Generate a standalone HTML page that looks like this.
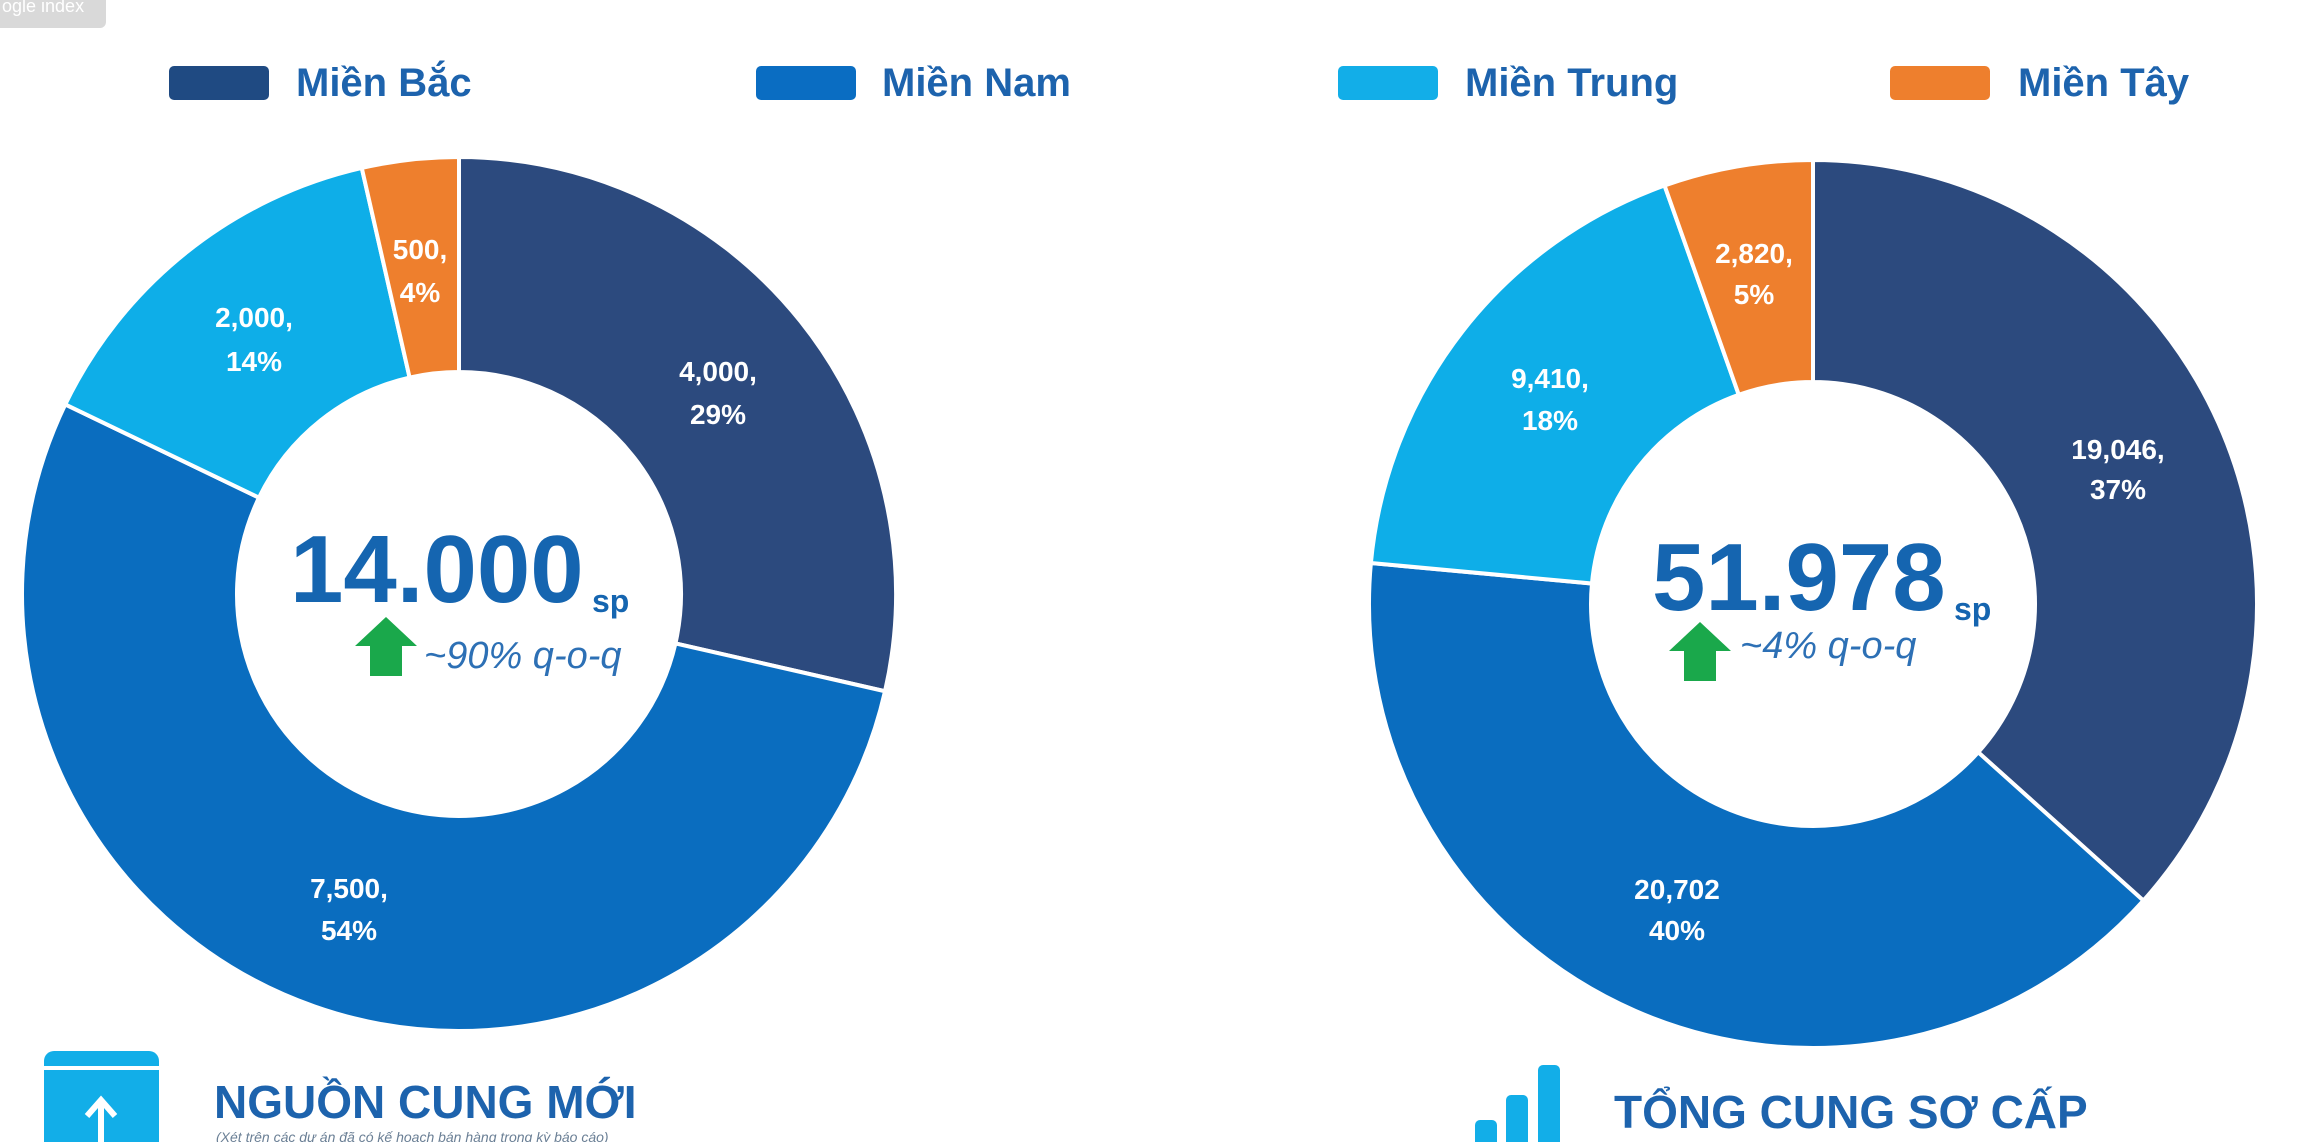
<!DOCTYPE html>
<html><head><meta charset="utf-8"><style>
html,body{margin:0;padding:0;background:#fff;}
svg{display:block;}
text{font-family:"Liberation Sans","DejaVu Sans",sans-serif;}
</style></head><body>
<svg id="s" width="2301" height="1142" viewBox="0 0 2301 1142" xmlns="http://www.w3.org/2000/svg">
<rect x="0" y="0" width="2301" height="1142" fill="#fff"/>
<rect x="-10" y="-10" width="116" height="38" rx="6" fill="#d9d9d9"/>
<text x="2" y="12" font-size="18" fill="#fff">ogle index</text>
<rect x="169" y="66" width="100" height="34" rx="5" fill="#1f4a82"/>
<text x="296" y="96" font-size="40" font-weight="bold" fill="#1d63ad">Miền Bắc</text>
<rect x="756" y="66" width="100" height="34" rx="5" fill="#0a6dc2"/>
<text x="882" y="96" font-size="40" font-weight="bold" fill="#1d63ad">Miền Nam</text>
<rect x="1338" y="66" width="100" height="34" rx="5" fill="#12aee8"/>
<text x="1465" y="96" font-size="40" font-weight="bold" fill="#1d63ad">Miền Trung</text>
<rect x="1890" y="66" width="100" height="34" rx="5" fill="#ee7f2d"/>
<text x="2018" y="96" font-size="40" font-weight="bold" fill="#1d63ad">Miền Tây</text>
<g id="d1"></g><g id="d2"></g>
<g font-size="28" font-weight="bold" fill="#fff" text-anchor="middle">
<text x="718" y="381">4,000,</text><text x="718" y="424">29%</text>
<text x="349" y="898">7,500,</text><text x="349" y="940">54%</text>
<text x="254" y="327">2,000,</text><text x="254" y="371">14%</text>
<text x="420" y="259">500,</text><text x="420" y="302">4%</text>
<text x="2118" y="459">19,046,</text><text x="2118" y="499">37%</text>
<text x="1677" y="899">20,702</text><text x="1677" y="940">40%</text>
<text x="1550" y="388">9,410,</text><text x="1550" y="430">18%</text>
<text x="1754" y="263">2,820,</text><text x="1754" y="304">5%</text>
</g>
<text x="290" y="602" font-size="96" font-weight="bold" fill="#1565b0">14.000</text>
<text x="592" y="612" font-size="32" font-weight="bold" fill="#1565b0">sp</text>
<polygon points="386,617 417,646 402,646 402,676 370,676 370,646 355,646" fill="#1aa84b"/>
<text x="424" y="668" font-size="38" font-style="italic" fill="#2d70b5">~90% q-o-q</text>
<text x="1652" y="610" font-size="96" font-weight="bold" fill="#1565b0">51.978</text>
<text x="1954" y="620" font-size="32" font-weight="bold" fill="#1565b0">sp</text>
<polygon points="1700,622 1731,651 1716,651 1716,681 1684,681 1684,651 1669,651" fill="#1aa84b"/>
<text x="1740" y="658" font-size="38" font-style="italic" fill="#2d70b5">~4% q-o-q</text>
<rect x="44" y="1051" width="115" height="110" rx="10" fill="#12aee8"/>
<rect x="44" y="1066" width="115" height="4" fill="#fff"/>
<path d="M101 1142 V1102 M87 1116 L101 1100 L115 1116" stroke="#fff" stroke-width="6" fill="none"/>
<text x="214" y="1118" font-size="46" font-weight="bold" fill="#1d63ad">NGUỒN CUNG MỚI</text>
<text x="216" y="1142" font-size="14" font-style="italic" fill="#6a7f95">(Xét trên các dự án đã có kế hoạch bán hàng trong kỳ báo cáo)</text>
<rect x="1475" y="1120" width="22" height="30" rx="5" fill="#12aee8"/>
<rect x="1506" y="1095" width="22" height="55" rx="5" fill="#12aee8"/>
<rect x="1538" y="1065" width="22" height="85" rx="5" fill="#12aee8"/>
<text x="1614" y="1128" font-size="46" font-weight="bold" fill="#1d63ad">TỔNG CUNG SƠ CẤP</text>
</svg>
<script>
function donut(id,cx,cy,R,r,vals,cols){
 var g=document.getElementById(id),t=vals.reduce(function(a,b){return a+b},0),a=0,ns="http://www.w3.org/2000/svg";
 vals.forEach(function(v,i){
  var a0=a,a1=a+v/t*2*Math.PI;a=a1;
  function p(rr,an){return [cx+rr*Math.sin(an),cy-rr*Math.cos(an)];}
  var l=(a1-a0)>Math.PI?1:0,P0=p(R,a0),P1=p(R,a1),Q1=p(r,a1),Q0=p(r,a0);
  var d="M"+P0+"A"+R+","+R+" 0 "+l+" 1 "+P1+"L"+Q1+"A"+r+","+r+" 0 "+l+" 0 "+Q0+"Z";
  var e=document.createElementNS(ns,"path");e.setAttribute("d",d);e.setAttribute("fill",cols[i]);
  e.setAttribute("stroke","#fff");e.setAttribute("stroke-width","4");g.appendChild(e);
 });
}
var C=["#2c4a7e","#0a6dbf","#0eaee8","#ee7f2d"];
donut("d1",459,594,437,222,[4000,7500,2000,500],C);
donut("d2",1813,604,444,222,[19046,20702,9410,2820],C);
</script>
</body></html>
